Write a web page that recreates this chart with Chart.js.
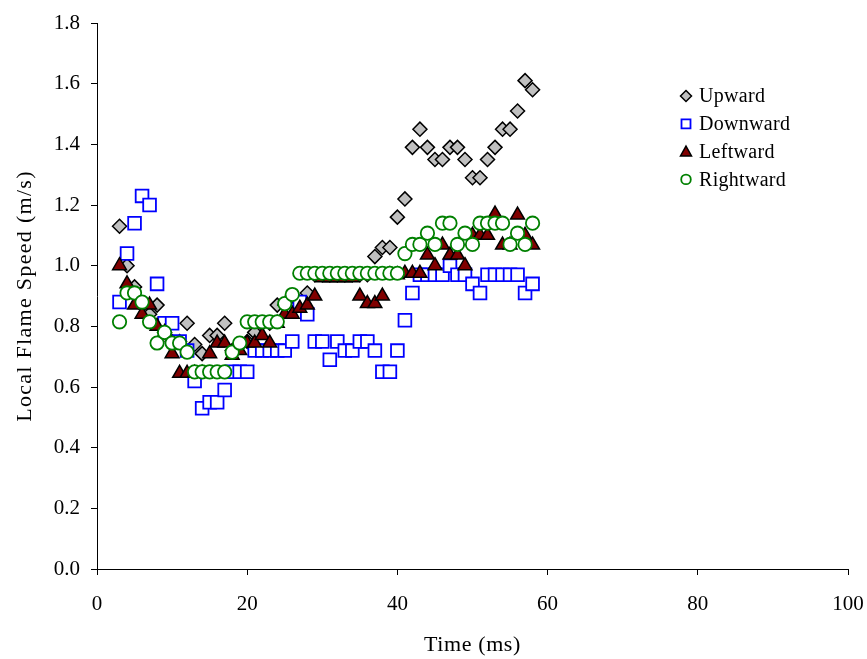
<!DOCTYPE html>
<html><head><meta charset="utf-8">
<script src="https://cdn.jsdelivr.net/npm/chart.js@4/dist/chart.umd.min.js"></script>
<style>html,body{margin:0;padding:0;background:#fff}#wrap{width:867px;height:659px}</style>
</head><body><div id="wrap"><canvas id="c" width="867" height="659"></canvas></div>
<script>
const seriesNames = ['Upward', 'Downward', 'Leftward', 'Rightward'];
const xTitle = 'Time (ms)';
const yTitle = 'Local Flame Speed (m/s)';
const times = [3,4,5,6,7,8,9,10,11,12,13,14,15,16,17,18,19,20,21,22,23,24,25,26,27,28,29,30,31,32,33,34,35,36,37,38,39,40,41,42,43,44,45,46,47,48,49,50,51,52,53,54,55,56,57,58];
const upward = [1.13,1.00,0.93,0.87,0.84,0.87,0.78,0.75,0.75,0.81,0.74,0.71,0.77,0.77,0.81,0.72,0.74,0.75,0.78,0.81,0.81,0.87,0.87,0.90,0.88,0.91,0.97,0.97,0.97,0.97,0.97,0.97,0.97,0.97,1.03,1.06,1.06,1.16,1.22,1.39,1.45,1.39,1.35,1.35,1.39,1.39,1.35,1.29,1.29,1.35,1.39,1.45,1.45,1.51,1.61,1.58];
const downward = [0.88,1.04,1.14,1.23,1.20,0.94,0.81,0.81,0.75,0.72,0.62,0.53,0.55,0.55,0.59,0.65,0.65,0.65,0.72,0.72,0.72,0.72,0.72,0.75,0.88,0.84,0.75,0.75,0.69,0.75,0.72,0.72,0.75,0.75,0.72,0.65,0.65,0.72,0.82,0.91,0.97,0.97,0.97,0.97,1.00,0.97,0.97,0.94,0.91,0.97,0.97,0.97,0.97,0.97,0.91,0.94];
const leftward = [1.00,0.94,0.87,0.84,0.87,0.80,0.78,0.71,0.645,0.645,0.645,0.645,0.71,0.745,0.745,0.705,0.72,0.745,0.745,0.77,0.745,0.81,0.84,0.84,0.86,0.87,0.90,0.96,0.96,0.96,0.96,0.96,0.90,0.875,0.875,0.90,0.97,0.97,0.975,0.975,0.975,1.035,1.00,1.068,1.035,1.035,1.00,1.10,1.10,1.10,1.17,1.068,1.068,1.167,1.10,1.068];
const rightward = [0.815,0.91,0.91,0.88,0.815,0.745,0.78,0.745,0.745,0.715,0.65,0.65,0.65,0.65,0.65,0.715,0.745,0.815,0.815,0.815,0.815,0.815,0.875,0.905,0.975,0.975,0.975,0.975,0.975,0.975,0.975,0.975,0.975,0.975,0.975,0.975,0.975,0.975,1.04,1.07,1.07,1.107,1.07,1.14,1.14,1.07,1.107,1.07,1.14,1.14,1.14,1.14,1.07,1.107,1.07,1.14];
const xTicks = [0,20,40,60,80,100];
const yTicks = [0,0.2,0.4,0.6,0.8,1.0,1.2,1.4,1.6,1.8];

const FONT = '"Liberation Serif", "Times New Roman", serif';
const toPts = arr => arr.map((v, i) => ({x: times[i], y: v}));

const styles = [
  {pointStyle: 'rectRot', radius: 7, bg: '#c0c0c0', border: '#000000', bw: 1.5, order: 4},
  {pointStyle: 'rect', radius: 9, bg: '#ffffff', border: '#0000ff', bw: 1.8, order: 3},
  {pointStyle: 'triangle', radius: 8, bg: '#800000', border: '#000000', bw: 1.5, order: 2},
  {pointStyle: 'circle', radius: 6.7, bg: '#ffffff', border: '#008000', bw: 1.8, order: 1}
];
const values = [upward, downward, leftward, rightward];

const datasets = seriesNames.map((name, i) => ({
  label: name,
  data: toPts(values[i]),
  showLine: false,
  pointStyle: styles[i].pointStyle,
  pointRadius: styles[i].radius,
  pointHoverRadius: styles[i].radius,
  backgroundColor: styles[i].bg,
  borderColor: styles[i].border,
  pointBorderWidth: styles[i].bw,
  borderWidth: styles[i].bw,
  order: styles[i].order
}));

function marker(ctx, style, x, y, r) {
  ctx.save();
  ctx.fillStyle = style.bg; ctx.strokeStyle = style.border; ctx.lineWidth = style.bw;
  ctx.beginPath();
  if (style.pointStyle === 'rectRot') {
    ctx.moveTo(x, y - r); ctx.lineTo(x + r, y); ctx.lineTo(x, y + r); ctx.lineTo(x - r, y); ctx.closePath();
  } else if (style.pointStyle === 'rect') {
    ctx.rect(x - r, y - r, 2 * r, 2 * r);
  } else if (style.pointStyle === 'triangle') {
    ctx.moveTo(x, y - r); ctx.lineTo(x + r, y + r * 0.8); ctx.lineTo(x - r, y + r * 0.8); ctx.closePath();
  } else {
    ctx.arc(x, y, r, 0, Math.PI * 2);
  }
  ctx.fill(); ctx.stroke();
  ctx.restore();
}

const legendAndTitles = {
  id: 'customLegend',
  afterDraw(chart) {
    const ctx = chart.ctx;
    const area = chart.chartArea;
    const sizes = [5.5, 4.5, 5.5, 4.8];
    seriesNames.forEach((name, i) => {
      const y = 96 + i * 27.8;
      marker(ctx, styles[i], 686, y, sizes[i]);
      ctx.save();
      ctx.fillStyle = '#000';
      ctx.font = '20px ' + FONT;
      ctx.textBaseline = 'middle';
      ctx.textAlign = 'left';
      ctx.letterSpacing = '0.3px';
      ctx.fillText(name, 699, y + 1);
      ctx.restore();
    });
    ctx.save();
    ctx.fillStyle = '#000';
    ctx.font = '22px ' + FONT;
    ctx.textBaseline = 'middle';
    ctx.textAlign = 'center';
    ctx.letterSpacing = '0.6px';
    ctx.fillText(xTitle, (area.left + area.right) / 2, 645);
    ctx.restore();
    ctx.save();
    ctx.fillStyle = '#000';
    ctx.font = '22px ' + FONT;
    ctx.textBaseline = 'middle';
    ctx.textAlign = 'center';
    ctx.letterSpacing = '1.3px';
    ctx.translate(25, (area.top + area.bottom) / 2);
    ctx.rotate(-Math.PI / 2);
    ctx.fillText(yTitle, 0, 0);
    ctx.restore();
  }
};

new Chart(document.getElementById('c'), {
  type: 'scatter',
  data: {datasets},
  plugins: [legendAndTitles],
  options: {
    responsive: false,
    animation: false,
    layout: {padding: {left: 0, top: 23, right: 19, bottom: 0}},
    plugins: {legend: {display: false}, tooltip: {enabled: false}},
    scales: {
      x: {
        type: 'linear', min: 0, max: 100,
        afterBuildTicks: s => { s.ticks = xTicks.map(v => ({value: v})); },
        afterFit: s => { s.height = 90; s.paddingLeft = 0; s.paddingRight = 0; },
        ticks: {color: '#000', font: {family: FONT, size: 21}, padding: 17, maxRotation: 0},
        grid: {drawOnChartArea: false, drawTicks: true, tickLength: 6, color: '#000', lineWidth: 1},
        border: {display: true, color: '#000', width: 1},
        title: {display: false}
      },
      y: {
        type: 'linear', min: 0, max: 1.8,
        afterBuildTicks: s => { s.ticks = yTicks.map(v => ({value: v})); },
        afterFit: s => { s.width = 97; s.paddingTop = 0; s.paddingBottom = 0; },
        ticks: {color: '#000', font: {family: FONT, size: 21}, padding: 11, callback: v => Number(v).toFixed(1)},
        grid: {drawOnChartArea: false, drawTicks: true, tickLength: 6, color: '#000', lineWidth: 1},
        border: {display: true, color: '#000', width: 1},
        title: {display: false}
      }
    }
  }
});
</script>
</body></html>
